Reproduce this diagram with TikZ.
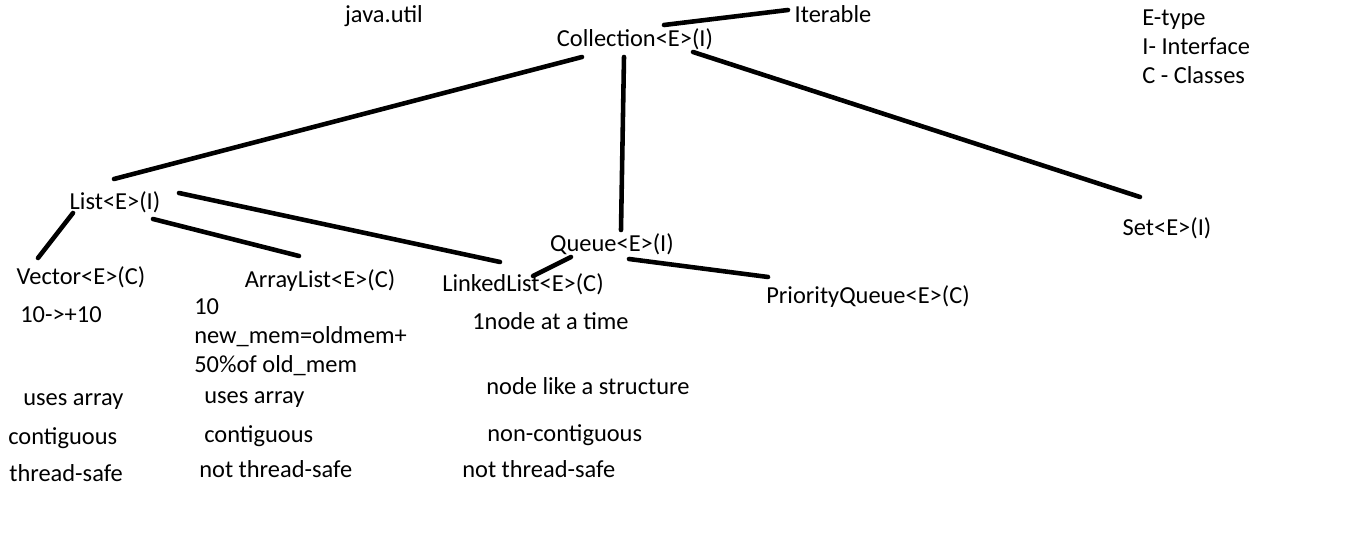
\documentclass[tikz,border=0pt]{standalone}
\usepackage{fontspec}
\setmainfont{Carlito}
\usetikzlibrary{calc}

\begin{document}
\begin{tikzpicture}[x=0.02cm,y=-0.02cm,
  every node/.style={inner sep=0pt,text height=11pt,text depth=3pt,
    font=\fontsize{13.9}{16.4}\selectfont},
  note/.style={anchor=west,align=left},
  lines/.style={note,text height={},text depth={}},
  edge/.style={line width=2.6pt,line cap=round}]

\useasboundingbox (0,0) rectangle (1357,553);

\node (pkg)   at (384,15)  {java.util};
\node (coll)  at (635,39)  {Collection<E>(I)};
\node (iter)  at (833,15)  {Iterable};
\node[lines] (key) at (1142,47) {E-type\\I- Interface\\C - Classes};

\node (list)  at (115,202) {List<E>(I)};
\node (queue) at (612,244) {Queue<E>(I)};
\node (set)   at (1167,228) {Set<E>(I)};

\node (vec)   at (81,277)  {Vector<E>(C)};
\node (alist) at (320,280) {ArrayList<E>(C)};
\node (llist) at (523,284) {LinkedList<E>(C)};
\node (pq)    at (868,296) {PriorityQueue<E>(C)};

% notes under each class
\node[note] (vgrow)  at (20,315)  {10->+10};
\node[lines] (agrow) at (194,337) {10\\new\_mem=oldmem+\\50\%of old\_mem};
\node[note] (lgrow)  at (472,322) {1node at a time};
\node[note] (vuse)   at (23,398)  {uses array};
\node[note] (ause)   at (204,396) {uses array};
\node[note] (luse)   at (486,387) {node like a structure};
\node[note] (vmem)   at (8,437)   {contiguous};
\node[note] (amem)   at (204,435) {contiguous};
\node[note] (lmem)   at (487,434) {non-contiguous};
\node[note] (vsafe)  at (9,474)   {thread-safe};
\node[note] (asafe)  at (199,470) {not thread-safe};
\node[note] (lsafe)  at (462,470) {not thread-safe};

\draw[edge] ($(coll)+(29,-14)$) -- ($(iter)+(-45,-5)$);
\draw[edge] ($(coll)+(-53,18)$) -- ($(list)+(-1,-23)$);
\draw[edge] ($(coll)+(-11,18)$) -- ($(queue)+(9,-14)$);
\draw[edge] ($(coll)+(58,13)$)  -- ($(set)+(-27,-31)$);

\draw[edge] ($(list)+(-42,11)$) -- ($(vec)+(-43,-19)$);
\draw[edge] ($(list)+(38,17)$)  -- ($(alist)+(-21,-24)$);
\draw[edge] ($(list)+(64,-9)$)  -- ($(llist)+(-23,-22)$);

\draw[edge] ($(queue)+(-41,13)$) -- ($(llist)+(10,-8)$);
\draw[edge] ($(queue)+(17,15)$)  -- ($(pq)+(-100,-19)$);

\end{tikzpicture}
\end{document}
